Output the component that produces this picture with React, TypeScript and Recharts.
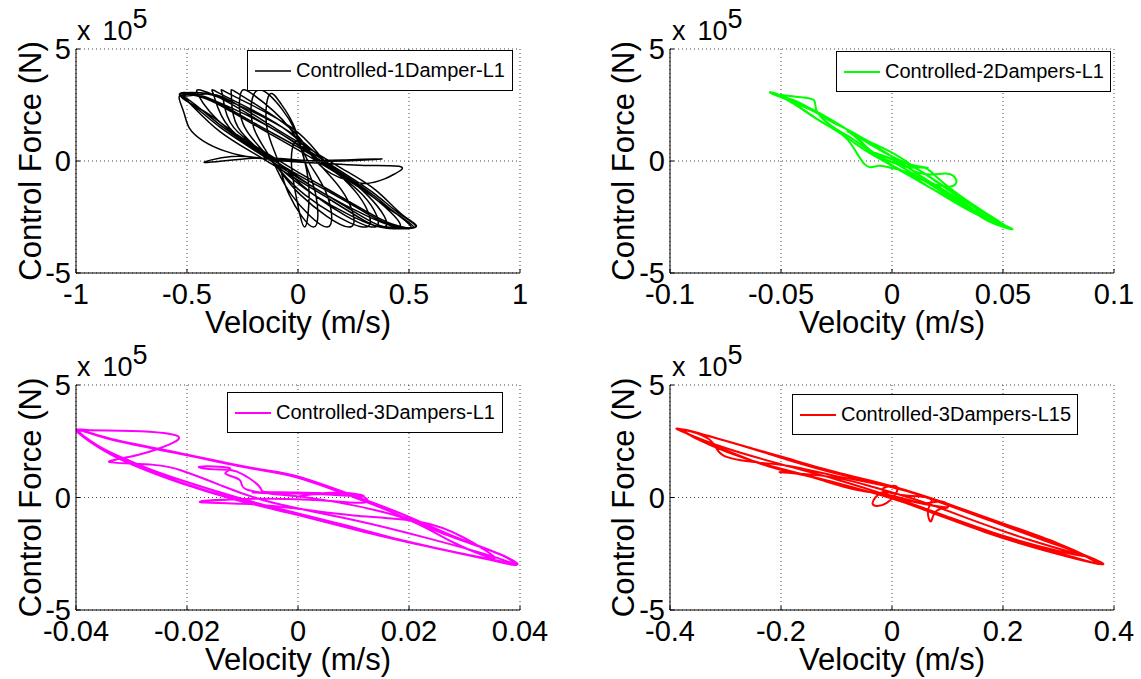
import { CartesianGrid, Legend, Line, LineChart, XAxis, YAxis } from "recharts";

// velocity (m/s), control force (x 10^5 N)
const oneDamperL1: [number, number][] = [
  [0, 0], [0.2, 0.05], [0.38, 0.1], [0.2, 0.0], [0, 0.05], [-0.2, 0.12], [-0.42, -0.07], [-0.3, 0.2],
  [-0.15, 0.1], [0, -0.05], [0.15, -0.12], [0.3, -0.2], [0.46, -0.25], [0.44, -0.55], [0.39, -0.8],
  [0.31, -1.0], [0.22, -0.85], [0.1, -0.2],
  [0.0, 0.9], [-0.03, 0.0], [-0.01, -1.5], [0.03, -2.95], [0.05, -1.5], [0.03, 0.0], [-0.02, 1.6], [-0.08, 2.6],
  [-0.13, 2.95], [-0.14, 1.5], [-0.09, 0], [-0.04, -1.5], [0.07, -2.95], [0.08, -1.5], [0.03, 0], [-0.02, 1.5], [-0.13, 2.95],
  [-0.2, 2.95], [-0.2, 1.5], [-0.115, 0], [-0.03, -1.5], [0.13, -2.95], [0.13, -1.5], [0.045, 0], [-0.04, 1.5], [-0.2, 2.95],
  [-0.26, 2.95], [-0.24, 1.5], [-0.115, 0], [0.01, -1.5], [0.23, -2.95], [0.21, -1.5], [0.085, 0], [-0.04, 1.5], [-0.26, 2.95],
  [-0.3, 2.95], [-0.27, 1.5], [-0.12, 0], [0.03, -1.5], [0.3, -2.95], [0.27, -1.5], [0.12, 0], [-0.03, 1.5], [-0.3, 2.95],
  [-0.34, 2.95], [-0.29, 1.5], [-0.1, 0], [0.07, -1.5], [0.34, -2.95], [0.29, -1.5], [0.1, 0], [-0.07, 1.5], [-0.34, 2.95],
  [-0.38, 2.95], [-0.31, 1.5], [-0.12, 0], [0.07, -1.5], [0.38, -2.95], [0.31, -1.5], [0.12, 0], [-0.07, 1.5], [-0.38, 2.95],
  [-0.45, 2.95], [-0.325, 1.5], [-0.1, 0], [0.125, -1.5], [0.45, -2.95], [0.325, -1.5], [0.1, 0], [-0.125, 1.5], [-0.45, 2.95],
  [-0.53, 2.92], [-0.45, 2.97], [-0.36, 2.85], [-0.2, 1.95], [0, 0.75], [0.2, -0.5], [0.35, -1.5], [0.45, -2.3],
  [0.53, -2.92], [0.45, -2.97], [0.36, -2.85], [0.2, -1.95], [0, -0.75], [-0.2, 0.5], [-0.35, 1.5], [-0.45, 2.3],
  [-0.52, 2.95], [-0.42, 2.8], [-0.3, 2.2], [-0.15, 1.35], [0, 0.5], [0.15, -0.4], [0.3, -1.35], [0.42, -2.2],
  [0.52, -2.95], [0.42, -2.8], [0.3, -2.2], [0.15, -1.35], [0, -0.5], [-0.15, 0.4], [-0.3, 1.35], [-0.42, 2.2],
  [-0.53, 2.95], [-0.4, 3.0], [-0.28, 2.55], [-0.1, 1.45], [0.05, 0.55], [0.2, -0.35], [0.35, -1.3], [0.47, -2.4],
  [0.53, -2.95], [0.4, -3.0], [0.28, -2.55], [0.1, -1.45], [-0.05, -0.55], [-0.2, 0.35], [-0.35, 1.3], [-0.47, 2.4],
  [-0.51, 2.96], [-0.43, 2.9], [-0.33, 2.45], [-0.18, 1.6], [0, 0.62], [0.18, -0.45], [0.33, -1.45], [0.43, -2.25],
  [0.51, -2.96], [0.43, -2.9], [0.33, -2.45], [0.18, -1.6], [0, -0.62], [-0.18, 0.45], [-0.33, 1.45], [-0.43, 2.25],
  [-0.53, 2.92], [-0.516, 2.22], [-0.49, 1.48], [-0.426, 0.89], [-0.328, 0.44], [-0.197, 0.15], [0, 0],
];

const twoDampersL1: [number, number][] = [
  [0, 0], [0.005, -0.2], [0.012, -0.28], [0.016, -0.3], [0.008, -0.15], [-0.003, 0.2], [-0.009, 0.4],
  [-0.005, 0.25], [0.004, -0.1], [0.01, -0.45], [0.018, -0.6], [0.026, -0.58], [0.029, -0.95], [0.025, -1.15],
  [0.018, -1.0], [0.01, -0.7], [0.0, -0.2], [-0.01, 0.5], [-0.018, 1.2], [-0.02, 1.32], [-0.017, 1.2],
  [-0.008, 0.3], [0.005, -0.5], [0.02, -1.35], [0.035, -2.1], [0.045, -2.6], [0.041, -2.45], [0.03, -1.7],
  [0.015, -0.8], [0.0, 0.2], [-0.015, 1.1], [-0.03, 1.95], [-0.045, 2.65], [-0.0549, 3.05], [-0.05, 2.92],
  [-0.04, 2.3], [-0.03, 1.65], [-0.02, 0.95], [-0.0123, -0.15], [-0.0066, -0.22], [-0.0008, -0.3],
  [0.0074, -0.52], [0.0189, -1.12], [0.032, -1.93], [0.0434, -2.68], [0.0541, -3.05], [0.0484, -2.75],
  [0.0352, -1.93], [0.0221, -1.04], [0.0107, -0.3], [0, 0.37], [-0.0107, 0.89], [-0.0189, 1.34],
  [-0.0303, 1.93], [-0.0434, 2.68], [-0.054, 3.0], [-0.0434, 2.87], [-0.0352, 2.72], [-0.0339, 2.23],
  [-0.027, 1.55], [-0.0172, 0.95], [-0.0074, 0.3], [0.0025, -0.15], [0.009, -0.3], [0.0148, -0.3],
  [0.02, -0.7], [0.03, -1.5], [0.042, -2.3], [0.052, -2.95], [0.046, -2.7], [0.036, -2.0], [0.024, -1.2],
  [0.012, -0.4], [0.002, 0.1], [-0.01, 0.75], [-0.025, 1.7], [-0.04, 2.5], [-0.052, 2.98], [-0.045, 2.6],
  [-0.035, 1.95], [-0.022, 1.15], [-0.01, 0.35], [0.002, -0.3], [0.015, -1.05], [0.03, -1.95], [0.045, -2.7],
  [0.054, -3.02], [0.047, -2.8], [0.035, -2.15], [0.022, -1.35], [0.01, -0.6], [0, 0],
];

const threeDampersL1: [number, number][] = [
  [0, 0.05], [0.004, 0.18], [0.009, 0.2], [0.0118, 0.05], [0.006, 0.12], [-0.004, 0.2], [-0.008, 0.22],
  [0.0, 0.18], [0.01, 0.15], [0.012, -0.22], [0.004, -0.12], [-0.008, -0.06], [-0.0177, -0.19], [-0.01, -0.28],
  [0.0, -0.5], [0.01, -0.8], [0.0216, -1.07], [0.03, -1.8], [0.0354, -2.7], [0.028, -2.0], [0.02, -1.0],
  [0.01, -0.35], [0.0, 0.05], [-0.009, 0.33], [-0.0105, 0.78], [-0.0131, 1.07], [-0.0125, 1.32], [-0.0177, 1.37],
  [-0.015, 1.25], [-0.011, 1.15], [-0.007, 0.5], [-0.006, 0.25], [0.0, 0.22], [0.008, 0.16], [0.0105, 0.04],
  [0.0184, -0.7], [0.0282, -1.74], [0.0367, -2.56], [0.0393, -3.0], [0.0348, -2.78], [0.0249, -2.26],
  [0.0118, -1.52], [0.0, -0.78], [-0.0111, -0.11], [-0.021, 0.63], [-0.0275, 1.22], [-0.0341, 1.96],
  [-0.0397, 2.9], [-0.038, 3.0], [-0.03, 2.96], [-0.0216, 2.72], [-0.0249, 2.19], [-0.0289, 1.89],
  [-0.0331, 1.67], [-0.0331, 1.55], [-0.026, 1.45], [-0.021, 1.2], [-0.014, 0.55], [-0.005, -0.2],
  [0.01, -1.0], [0.024, -1.85], [0.0355, -2.65], [0.039, -2.95], [0.0367, -2.56], [0.0282, -1.74],
  [0.0184, -0.7], [0.0105, 0.04], [0.0, 0.93], [-0.0079, 1.3], [-0.021, 1.96], [-0.0341, 2.63], [-0.0397, 3.0],
  [-0.036, 2.3], [-0.031, 1.7], [-0.025, 1.1], [-0.015, 0.3], [-0.005, -0.4], [0.008, -1.2], [0.022, -2.1],
  [0.034, -2.72], [0.0395, -2.98], [0.0362, -2.5], [0.027, -1.68], [0.017, -0.66], [0.0095, 0.06], [0.0, 0.88],
  [-0.009, 1.32], [-0.022, 1.98], [-0.034, 2.6], [-0.0395, 2.95], [-0.0341, 1.98], [-0.0275, 1.25],
  [-0.021, 0.66], [-0.011, -0.08], [0.0, -0.75], [0.012, -1.5], [0.025, -2.25], [0.035, -2.76], [0.039, -2.96],
];

const threeDampersL15: [number, number][] = [
  [0, 0.0], [0.03, -0.12], [0.06, -0.25], [0.09, -0.18], [0.1, -0.42], [0.06, -0.3], [0.0, 0.05], [-0.02, 0.22],
  [-0.035, -0.28], [-0.01, -0.25], [0.01, 0.38], [-0.005, 0.5], [-0.015, 0.3], [0.03, 0.08], [0.07, -0.05],
  [0.065, -0.55], [0.07, -1.07], [0.08, -0.6], [0.1, -0.45], [0.06, -0.3], [0.0, 0.08], [-0.06, 0.32],
  [-0.12, 0.72], [-0.17, 1.05], [-0.2, 1.12], [-0.12, 0.95], [-0.05, 0.58], [0.05, -0.15], [0.15, -1.05],
  [0.25, -1.9], [0.33, -2.48], [0.345, -2.6], [0.3, -2.38], [0.2, -1.7], [0.1, -0.85], [0.0, 0.02], [-0.1, 0.8],
  [-0.2, 1.48], [-0.3, 2.2], [-0.37, 2.85], [-0.38, 3.03], [-0.285, 2.41], [-0.187, 1.67], [-0.089, 1.0],
  [0, 0.48], [0.075, -0.11], [0.174, -1.0], [0.272, -1.89], [0.338, -2.48], [0.378, -2.97], [0.272, -2.33],
  [0.174, -1.59], [0.075, -0.7], [0, -0.04], [-0.043, 0.26], [-0.121, 0.78], [-0.22, 1.37], [-0.285, 1.96],
  [-0.331, 2.41], [-0.375, 2.98], [-0.33, 2.6], [-0.305, 1.88], [-0.24, 1.55], [-0.18, 1.38], [-0.1, 0.95],
  [0.0, 0.45], [0.1, -0.3], [0.2, -1.2], [0.3, -2.05], [0.375, -2.95], [0.3, -2.45], [0.2, -1.78], [0.1, -0.9],
  [0.0, -0.05], [-0.1, 0.65], [-0.2, 1.28], [-0.3, 2.05], [-0.378, 3.0], [-0.3, 2.52], [-0.2, 1.82],
  [-0.1, 1.12], [0.0, 0.5], [0.1, -0.28], [0.2, -1.15], [0.3, -2.05], [0.37, -2.9],
];

const forceTicks = [-5, 0, 5];
const velTicks1 = [-1, -0.5, 0, 0.5, 1];
const velTicks2 = [-0.1, -0.05, 0, 0.05, 0.1];
const velTicks3 = [-0.04, -0.02, 0, 0.02, 0.04];
const velTicks15 = [-0.4, -0.2, 0, 0.2, 0.4];

const FONT = '"Liberation Sans", Arial, Helvetica, sans-serif';

type Rect = [number, number, number, number];

type PanelProps = {
  box: Rect; // left, top, width, height (page)
  plot: Rect; // left, top, right, bottom (page)
  pairs: [number, number][];
  xTicks: number[];
  color: string;
  lw: number;
  name: string;
  legend: Rect; // left, top, width, height (chart)
  yLabelOffset: number;
  xLabelOffset: number;
  expoLeft: number;
  expoBase: number;
};

function Panel({ box, plot, pairs, xTicks, color, lw, name, legend, yLabelOffset, xLabelOffset, expoLeft, expoBase }: PanelProps) {
  const [bl, bt, bw, bh] = box;
  const [pl, pt, pr, pb] = plot;
  const rows = pairs.map(([x, y]) => ({ x, y }));
  const xDomain: [number, number] = [xTicks[0], xTicks[xTicks.length - 1]];
  const fmt = (v: number) => String(v);
  const tickStyle = { fill: "#000", fontSize: 29, fontFamily: FONT };

  return (
    <div style={{ position: "absolute", left: bl, top: bt, width: bw, height: bh }}>
      <LineChart width={bw} height={bh} data={rows} margin={{ top: pt - bt, right: bl + bw - pr, bottom: 0, left: 0 }}>
        <CartesianGrid stroke="#444" strokeDasharray="1 3" />
        <XAxis
          dataKey="x"
          type="number"
          domain={xDomain}
          ticks={xTicks}
          interval={0}
          allowDataOverflow
          height={bt + bh - pb}
          stroke="#000"
          tickSize={-4}
          tickMargin={14}
          tick={tickStyle}
          tickFormatter={fmt}
          label={{ value: "Velocity (m/s)", position: "insideBottom", offset: xLabelOffset, fill: "#000", fontSize: 31, fontFamily: FONT }}
        />
        <XAxis xAxisId="top" orientation="top" type="number" domain={xDomain} ticks={xTicks} interval={0} allowDataOverflow height={0} stroke="#000" tickSize={-4} tick={false} />
        <YAxis
          type="number"
          domain={[-5, 5]}
          ticks={forceTicks}
          interval={0}
          allowDataOverflow
          width={pl - bl}
          stroke="#000"
          tickSize={-4}
          tickMargin={9}
          tick={tickStyle}
          tickFormatter={fmt}
          label={{ value: "Control Force (N)", angle: -90, position: "insideLeft", offset: yLabelOffset, fill: "#000", fontSize: 31, fontFamily: FONT, style: { textAnchor: "middle" } }}
        />
        <YAxis yAxisId="right" orientation="right" type="number" domain={[-5, 5]} ticks={forceTicks} interval={0} allowDataOverflow width={0} stroke="#000" tickSize={-4} tick={false} />
        <Legend
          layout="horizontal"
          verticalAlign="middle"
          align="center"
          wrapperStyle={{ left: legend[0], top: legend[1], width: legend[2], height: legend[3] }}
          content={() => (
            <div
              style={{
                boxSizing: "border-box",
                width: legend[2],
                height: legend[3],
                border: "1px solid #000",
                background: "#fff",
                display: "flex",
                alignItems: "center",
                paddingLeft: 7,
                fontFamily: FONT,
                fontSize: 20,
                color: "#000",
                whiteSpace: "nowrap",
              }}
            >
              <svg width={36} height={6} style={{ marginRight: 5 }}>
                <line x1={0} y1={3} x2={36} y2={3} stroke={color} strokeWidth={lw} />
              </svg>
              <span>{name}</span>
            </div>
          )}
        />
        <Line dataKey="y" type="natural" stroke={color} strokeWidth={lw} dot={false} activeDot={false} isAnimationActive={false} />
      </LineChart>
      <div style={{ position: "absolute", left: expoLeft, top: expoBase - 22, fontSize: 27, lineHeight: "26px", fontFamily: FONT, color: "#000", whiteSpace: "nowrap" }}>
        <span>x</span>
        <span style={{ marginLeft: 12 }}>10</span>
        <span style={{ position: "relative", top: -12 }}>5</span>
      </div>
    </div>
  );
}

export default function App() {
  return (
    <div style={{ position: "absolute", left: 0, top: 0, width: 1141, height: 679, background: "#fff", overflow: "hidden", fontFamily: FONT }}>
      <Panel box={[0, 0, 570, 340]} plot={[76, 49, 520, 273]} pairs={oneDamperL1} xTicks={velTicks1} color="#000000" lw={1.5}
        name="Controlled-1Damper-L1" legend={[247, 50, 266, 41]} yLabelOffset={30} xLabelOffset={7} expoLeft={77} expoBase={40} />
      <Panel box={[590, 0, 551, 340]} plot={[670, 49, 1114, 273]} pairs={twoDampersL1} xTicks={velTicks2} color="#00ff00" lw={2}
        name="Controlled-2Dampers-L1" legend={[246, 51, 275, 41]} yLabelOffset={33} xLabelOffset={7} expoLeft={82} expoBase={40} />
      <Panel box={[0, 340, 570, 339]} plot={[76, 385, 520, 610]} pairs={threeDampersL1} xTicks={velTicks3} color="#ff00ff" lw={2}
        name="Controlled-3Dampers-L1" legend={[227, 52, 276, 41]} yLabelOffset={30} xLabelOffset={9} expoLeft={77} expoBase={36} />
      <Panel box={[590, 340, 551, 339]} plot={[670, 385, 1114, 610]} pairs={threeDampersL15} xTicks={velTicks15} color="#ff0000" lw={2}
        name="Controlled-3Dampers-L15" legend={[202, 54, 286, 41]} yLabelOffset={33} xLabelOffset={9} expoLeft={82} expoBase={36} />
    </div>
  );
}
